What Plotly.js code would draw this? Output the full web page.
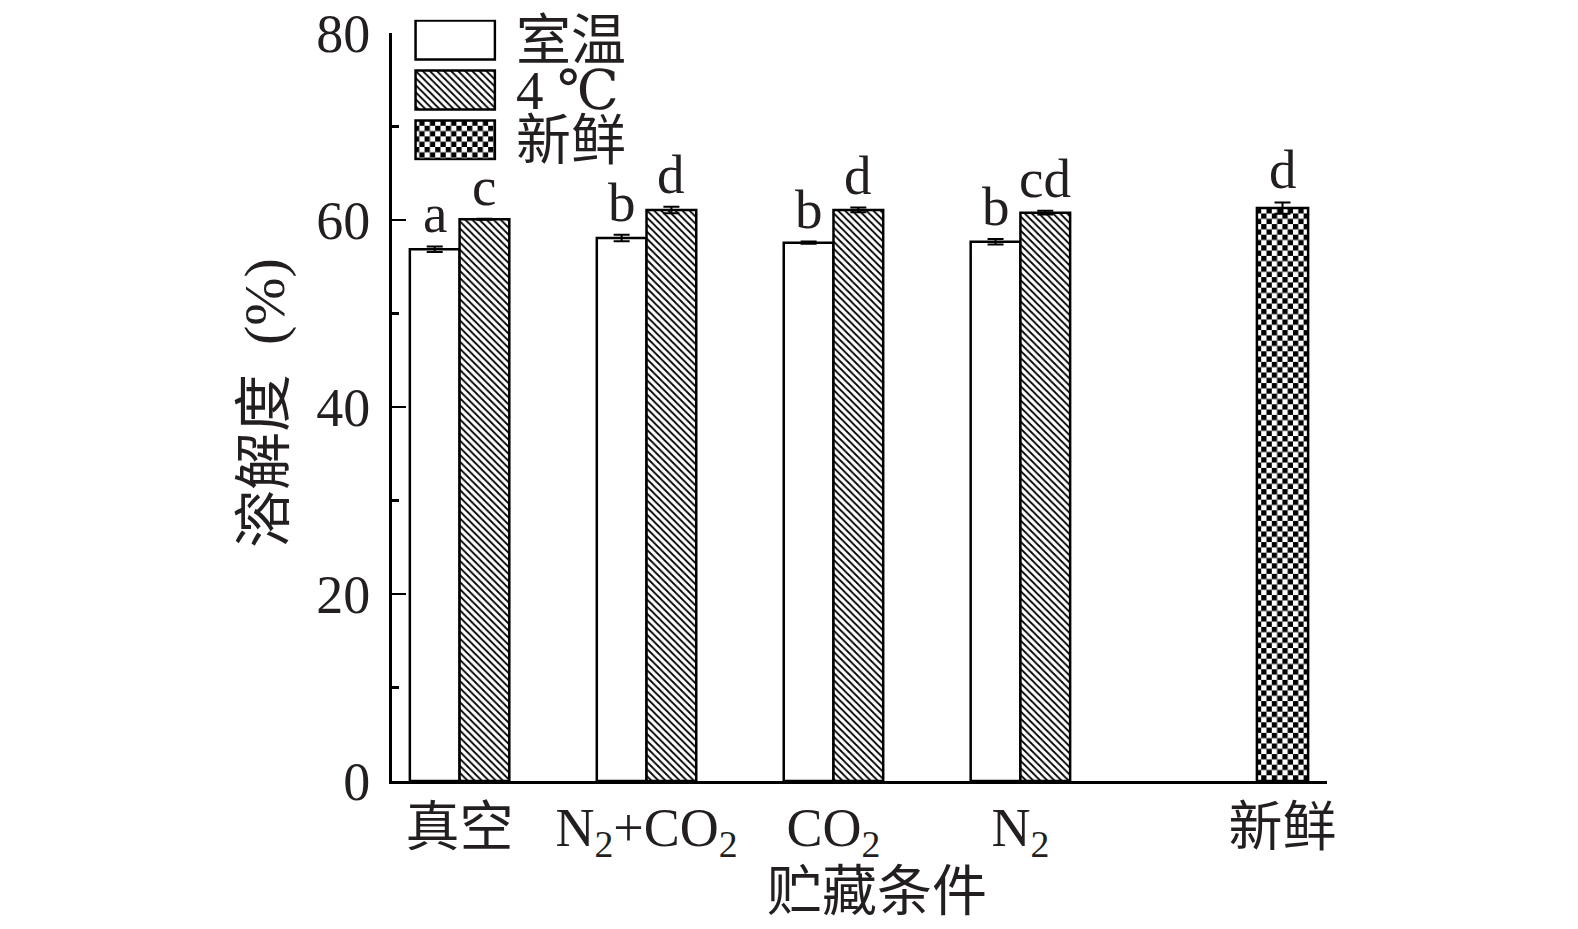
<!DOCTYPE html>
<html>
<head>
<meta charset="utf-8">
<script src="https://cdn.plot.ly/plotly-3.0.1.min.js"></script>
<style>
  html, body { margin: 0; padding: 0; background: #fff; }
  #chart { width: 1578px; height: 929px; }
</style>
</head>
<body>
<div id="chart"></div>
<script>
// ---------------- data ----------------
const categories = ['真空', 'N<sub>2</sub>+CO<sub>2</sub>', 'CO<sub>2</sub>', 'N<sub>2</sub>'];
const freshCategory = '新鲜';
const seriesNames = ['室温', '4 ℃', '新鲜'];

const roomTemp    = [56.9, 58.1, 57.6, 57.7];
const roomTempErr = [0.30, 0.35, 0.12, 0.30];
const cold        = [60.1, 61.1, 61.1, 60.8];
const coldErr     = [0.05, 0.35, 0.25, 0.20];
const fresh       = [61.3];
const freshErr    = [0.60];

const roomLetters  = ['a', 'b', 'b', 'b'];
const coldLetters  = ['c', 'd', 'd', 'cd'];
const freshLetters = ['d'];

const yTickVals = [0, 20, 40, 60, 80];
const yMinorVals = [10, 30, 50, 70];

// ---------------- layout helpers ----------------
const groupPos = [1, 2, 3, 4];
const freshPos = [5.402];
const BW = 0.266;              // bar width (axis units)
const FONT = "'Liberation Serif', 'Times New Roman', 'Noto Sans CJK SC', serif";
const LEG_FONT = "'Liberation Serif', 'DejaVu Serif', 'Noto Sans CJK SC', serif";
const TXT = '#231f20';
const CHECK_SIZE = 10.6;

const hatch   = { shape: '\\', size: 5, solidity: 0.36, fgcolor: '#000', bgcolor: '#fff', fillmode: 'replace' };
const checker = { shape: '+', size: CHECK_SIZE, solidity: 0.5, fgcolor: '#000', bgcolor: '#fff', fillmode: 'replace' };
const outline = { color: '#000', width: 2.5 };
const errStyle = { type: 'data', visible: true, color: '#000', thickness: 2, width: 8 };

const traces = [
  {
    type: 'bar', name: seriesNames[0], x: groupPos, y: roomTemp,
    width: BW, offset: -BW,
    marker: { color: '#fff', line: outline },
    error_y: Object.assign({ array: roomTempErr }, errStyle),
    xaxis: 'x', yaxis: 'y', hoverinfo: 'skip'
  },
  {
    type: 'bar', name: seriesNames[1], x: groupPos, y: cold,
    width: BW, offset: 0,
    marker: { color: '#fff', line: outline, pattern: hatch },
    error_y: Object.assign({ array: coldErr }, errStyle),
    xaxis: 'x', yaxis: 'y', hoverinfo: 'skip'
  },
  {
    type: 'bar', name: seriesNames[2], x: freshPos, y: fresh,
    width: BW * 1.03, offset: -BW * 1.03 / 2,
    marker: { color: '#fff', line: outline, pattern: checker },
    error_y: Object.assign({ array: freshErr }, errStyle),
    xaxis: 'x', yaxis: 'y', hoverinfo: 'skip'
  },
  // legend swatches (inset)
  {
    type: 'bar', orientation: 'h', x: [1, 1, 1], y: [0, 1, 2], width: 0.78,
    marker: {
      color: '#fff', line: outline,
      pattern: {
        shape: ['', hatch.shape, checker.shape],
        size: [hatch.size, hatch.size, checker.size],
        solidity: [hatch.solidity, hatch.solidity, checker.solidity],
        fgcolor: '#000', bgcolor: '#fff', fillmode: 'replace'
      }
    },
    xaxis: 'x2', yaxis: 'y2', hoverinfo: 'skip'
  }
];

// letters above bars
const annotations = [];
function addLetters(pos, vals, errs, letters, dx) {
  pos.forEach((p, i) => {
    annotations.push({
      x: p + dx, y: vals[i] + errs[i], xref: 'x', yref: 'y',
      text: letters[i], showarrow: false, xanchor: 'center', yanchor: 'bottom',
      yshift: 0, font: { family: FONT, size: 55, color: TXT }
    });
  });
}
addLetters(groupPos, roomTemp, roomTempErr, roomLetters, -BW / 2);
addLetters(groupPos, cold, coldErr, coldLetters, BW / 2);
addLetters(freshPos, fresh, freshErr, freshLetters, 0);

// legend labels
seriesNames.forEach((n, i) => {
  annotations.push({
    x: 1, y: i, xref: 'x2', yref: 'y2', text: n, showarrow: false,
    xanchor: 'left', yanchor: 'middle', xshift: 19,
    font: { family: LEG_FONT, size: 55, color: TXT }
  });
});

// axis titles
annotations.push({
  x: 0.5187, y: -0.143, xref: 'paper', yref: 'paper', text: '贮藏条件',
  showarrow: false, xanchor: 'center', yanchor: 'middle',
  font: { family: FONT, size: 55, color: TXT }
});
annotations.push({
  x: -0.137, y: 0.49, xref: 'paper', yref: 'paper', text: '溶解度\u00a0 (%)',
  showarrow: false, xanchor: 'center', yanchor: 'middle', textangle: -90,
  font: { family: FONT, size: 58, color: TXT }
});

const layout = {
  width: 1578, height: 929,
  margin: { l: 392, r: 251, t: 10, b: 148, pad: 0 },
  paper_bgcolor: '#fff', plot_bgcolor: 'rgba(0,0,0,0)',
  showlegend: false, barmode: 'overlay',
  xaxis: {
    domain: [0, 1], anchor: 'y',
    range: [0.6385, 5.64],
    tickvals: groupPos.concat(freshPos),
    ticktext: categories.concat([freshCategory]),
    ticks: '', showgrid: false, zeroline: false,
    showline: true, linecolor: '#000', linewidth: 3,
    ticklabelstandoff: -3,
    tickfont: { family: FONT, size: 54, color: TXT }
  },
  yaxis: {
    domain: [0, 0.9698], anchor: 'x',
    range: [0, 80], tickvals: yTickVals,
    ticks: 'inside', ticklen: 14, tickwidth: 2.5, tickcolor: '#000',
    minor: { tickvals: yMinorVals, ticks: 'inside', ticklen: 7, tickwidth: 2.5, tickcolor: '#000', showgrid: false },
    showgrid: false, zeroline: false,
    showline: true, linecolor: '#000', linewidth: 3,
    ticklabelstandoff: 8,
    tickfont: { family: FONT, size: 54, color: TXT }
  },
  xaxis2: {
    domain: [0.0235, 0.1118], anchor: 'y2', range: [-0.02, 1.02],
    showgrid: false, zeroline: false, showline: false, showticklabels: false, ticks: ''
  },
  yaxis2: {
    domain: [0.8050, 0.9873], anchor: 'x2', range: [2.405, -0.405],
    showgrid: false, zeroline: false, showline: false, showticklabels: false, ticks: ''
  },
  annotations: annotations
};

function makeChecker(gd) {
  gd.querySelectorAll('pattern').forEach(p => {
    const w = parseFloat(p.getAttribute('width'));
    if (Math.abs(w - CHECK_SIZE) < 0.01) {
      const c = CHECK_SIZE / 2;
      const path = p.querySelector('path');
      if (path) {
        path.setAttribute('d', `M0,0H${c}V${c}H0Z M${c},${c}H${CHECK_SIZE}V${CHECK_SIZE}H${c}Z`);
        path.style.stroke = 'none';
        path.style.strokeWidth = '0';
        path.style.fill = '#000';
        path.style.fillOpacity = '1';
      }
    }
  });
}

Plotly.newPlot('chart', traces, layout, { staticPlot: true, displayModeBar: false })
  .then(gd => makeChecker(gd));
</script>
</body>
</html>
